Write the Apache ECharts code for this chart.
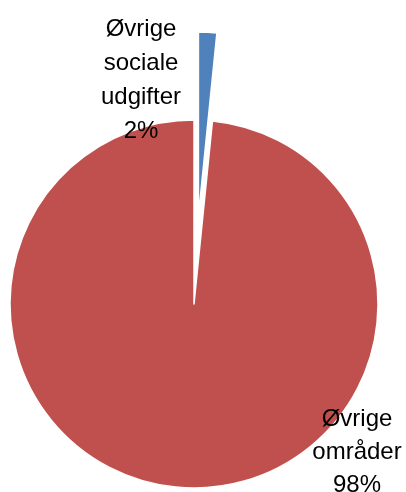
<!DOCTYPE html>
<html><head><meta charset="utf-8">
<script src="https://cdn.jsdelivr.net/npm/echarts@6/dist/echarts.min.js"></script>
<style>html,body{margin:0;padding:0;background:#fff}#c{width:406px;height:492px}</style>
</head><body><div id="c"></div>
<script>
const categories = ["Øvrige\nsociale\nudgifter", "Øvrige\nområder"];
const values = [1.6, 98.4];
const colors = ["#4F81BD", "#C0504D"];

const total = values.reduce((a, b) => a + b, 0);
const R = 184, C = [194, 304], OFF = 88;
const midAng = (values[0] / total) * Math.PI; // half of blue sweep, radians
const Cb = [C[0] + OFF * Math.sin(midAng), C[1] - OFF * Math.cos(midAng)];

function labelBase(lh) {
  return {
    show: true,
    position: 'outside',
    fontFamily: 'Liberation Sans',
    fontSize: 24,
    lineHeight: lh,
    color: '#000',
    align: 'center',
    formatter: p => p.name + '\n' + Math.round(p.percent) + '%'
  };
}

function makeSeries(center, visibleIdx, lx, ly, lh) {
  return {
    type: 'pie',
    center: center,
    radius: [0, R],
    startAngle: 90,
    clockwise: true,
    silent: true,
    avoidLabelOverlap: false,
    emphasis: {disabled: true},
    label: labelBase(lh),
    labelLine: {show: false},
    labelLayout: () => ({x: lx, y: ly, align: 'center', verticalAlign: 'middle'}),
    data: categories.map((c, i) => i === visibleIdx
      ? {name: c, value: values[i], itemStyle: {color: colors[i], borderColor: '#fff', borderWidth: 1.5}}
      : {name: c, value: values[i], itemStyle: {color: 'rgba(0,0,0,0)', borderWidth: 0}, label: {show: false}})
  };
}

const chart = echarts.init(document.getElementById('c'), null, {renderer: 'canvas'});
chart.setOption({
  animation: false,
  series: [
    makeSeries(C, 1, 357, 452, 33),
    makeSeries(Cb, 0, 141, 80, 34)
  ]
});
</script></body></html>
